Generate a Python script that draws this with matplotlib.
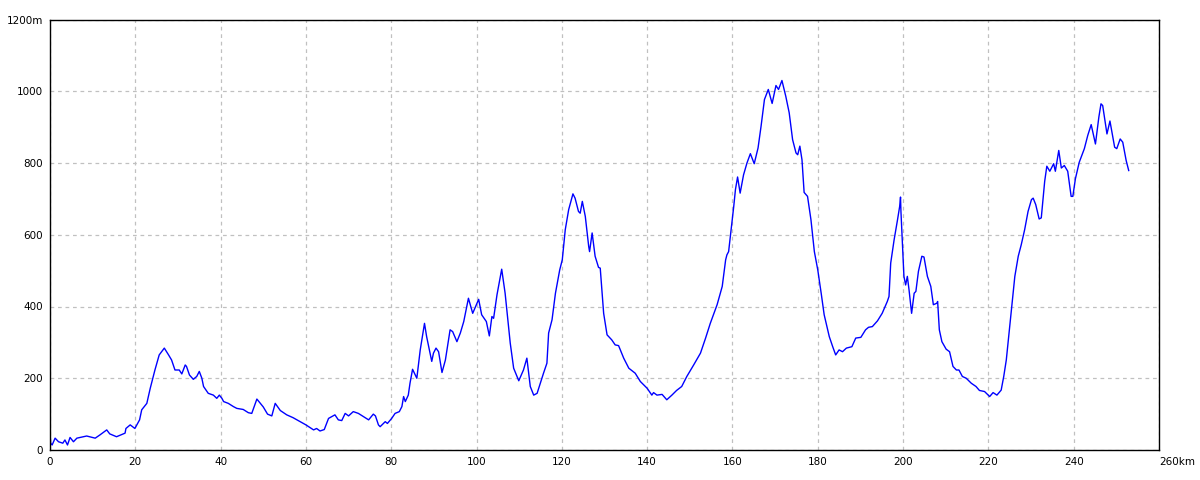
# Elevation profile (km vs m)

import matplotlib.pyplot as plt

# distance (km) and elevation (m)
km = [0, 0.15, 0.5, 1.2, 2, 3, 3.5, 4.1, 4.7, 5.5, 6.3, 8.6, 10.6, 11.7, 13.3,
      14, 15.6, 17.6, 17.8, 18.8, 19.9, 21, 21.5, 22.7, 23.5, 24.6, 25.6, 26.8,
      27.8, 28.5, 29.3, 30.3, 30.9, 31.7, 32, 32.7, 33.6, 34.4, 35, 35.6, 36,
      37.1, 38.3, 39.1, 39.7, 40.3, 40.7, 41.8, 43, 43.8, 45.3, 46.5, 47.3, 48.5,
      50, 51, 52, 52.8, 54, 55.5, 57, 58.5, 60, 61.8, 62.5, 63.3, 64.3, 65.3,
      66.8, 67.6, 68.4, 69.2, 70, 71.1, 72.3, 73.5, 74.7, 75.8, 76.3, 77, 77.4,
      78.6, 79.1, 80.1, 80.9, 81.9, 82.5, 82.9, 83.3, 84, 84.4, 85, 86, 86.8,
      87.8, 88.3, 89.5, 89.9, 90.5, 91.1, 91.9, 92.7, 93.8, 94.4, 95.4, 96.2,
      97, 98.1, 99.1, 100.5, 101.2, 102.3, 103, 103.6, 104, 104.8, 105.9, 106.7,
      107.9, 108.7, 109.9, 111, 111.8, 112.6, 113.4, 114.2, 115.7, 116.5, 116.9,
      117.7, 118.5, 119.5, 120.1, 120.8, 121.6, 122.6, 123.1, 123.9, 124.3,
      124.8, 125.5, 126.3, 126.5, 127.1, 127.8, 128.6, 129, 129.8, 130.6, 131.7,
      132.5, 133.3, 134.5, 135.7, 137.2, 138.4, 140, 141.1, 141.5, 142.3, 143.5,
      144.6, 145.8, 146.9, 148.1, 149.3, 150.9, 152.5, 153.7, 154.8, 156.4,
      157.6, 158.4, 158.7, 159.1, 159.5, 160.3, 160.7, 161.2, 161.8, 162.6,
      163.4, 164.2, 165.1, 166, 166.7, 167.5, 168.4, 169.3, 170.2, 170.8, 171.6,
      172.5, 173.3, 174.1, 174.9, 175.3, 175.8, 176.3, 176.8, 177.6, 178.4,
      179.2, 180, 180.8, 181.5, 182.7, 183.5, 184.2, 185, 185.8, 186.7, 188,
      188.9, 190.1, 191.2, 191.9, 192.8, 194, 195.1, 196.3, 196.7, 197.1, 197.9,
      198.7, 199.2, 199.4, 199.5, 199.8, 200.2, 200.6, 201, 201.4, 202, 202.6,
      203, 203.6, 204.4, 204.9, 205.7, 206.5, 207.1, 207.9, 208.1, 208.5, 209.1,
      210.1, 210.9, 211.7, 212.5, 213.1, 213.9, 214.8, 216, 217.1, 217.9, 219.1,
      220.3, 221.1, 222, 223, 223.6, 224.2, 225, 226.2, 227, 227.7, 228.5,
      229.3, 230.1, 230.5, 231.1, 231.9, 232.4, 233.2, 233.7, 234.4, 235.3,
      235.7, 236.5, 237.1, 237.8, 238.6, 239.4, 239.8, 240.4, 241.3, 242.5,
      243.3, 244.1, 245.1, 245.9, 246.4, 246.8, 247.8, 248.5, 249.6, 250.1,
      250.9, 251.5, 252.3, 252.9]
elev = [51, 19, 14, 33, 23, 19, 28, 14, 35, 23, 33, 39, 33, 42, 56,
        45, 37, 47, 60, 70, 60, 84, 112, 130, 172, 223, 265, 284,
        265, 251, 223, 223, 212, 237, 233, 209, 197, 205, 219, 200, 177,
        158, 153, 144, 153, 144, 135, 130, 121, 116, 113, 104, 102, 142,
        120, 100, 95, 130, 110, 98, 90, 80, 70, 56, 60, 53, 57, 88,
        98, 84, 82, 102, 95, 107, 102, 93, 84, 100, 95, 70, 65,
        79, 74, 88, 102, 107, 121, 149, 135, 153, 186, 225, 200, 279,
        353, 316, 247, 270, 284, 274, 216, 251, 335, 330, 302, 326,
        358, 423, 381, 420, 377, 358, 318, 372, 367, 433, 504, 437,
        298, 228, 193, 223, 256, 177, 153, 158, 214, 242, 326,
        363, 437, 502, 530, 614, 670, 714, 702, 665, 660,
        693, 651, 567, 553, 605, 540, 509, 507, 381, 321, 307,
        293, 291, 256, 228, 214, 191, 172, 153, 160, 153, 155,
        140, 153, 166, 177, 205, 237, 270, 312, 353, 405,
        456, 530, 544, 553, 595, 679, 726, 761, 716, 767,
        800, 826, 798, 842, 902, 977, 1005, 966, 1016, 1005, 1030,
        986, 940, 865, 828, 823, 847, 809, 718, 707, 642,
        553, 502, 437, 377, 316, 288, 265, 279, 274, 284, 288,
        312, 314, 335, 342, 344, 360, 381, 414, 428, 521, 586,
        642, 679, 705, 665, 586, 484, 460, 484, 446, 381, 437,
        442, 498, 540, 538, 484, 456, 405, 409, 414, 335, 302,
        281, 274, 233, 223, 223, 205, 200, 186, 177, 166, 163,
        149, 160, 153, 167, 205, 251, 344, 484, 540, 572, 614,
        665, 698, 702, 684, 644, 647, 749, 791, 777, 798,
        777, 835, 786, 793, 777, 707, 707, 756, 802, 840,
        877, 907, 853, 928, 965, 960, 881, 917, 844, 840,
        867, 858, 807, 779]

x_ticks = [0, 20, 40, 60, 80, 100, 120, 140, 160, 180, 200, 220, 240, 260]
x_labels = ["0", "20", "40", "60", "80", "100", "120", "140", "160", "180",
            "200", "220", "240", "260km"]
y_ticks = [0, 200, 400, 600, 800, 1000, 1200]
y_labels = ["0", "200", "400", "600", "800", "1000", "1200m"]

fig = plt.figure(figsize=(12, 4.8), dpi=100)
ax = fig.add_axes([50 / 1200, 30 / 480, 1109 / 1200, 430.5 / 480])

ax.plot(km, elev, color="#0000ff", linewidth=1)

ax.set_xlim(0, 260)
ax.set_ylim(0, 1200)
ax.set_xticks(x_ticks)
ax.set_xticklabels(x_labels)
ax.set_yticks(y_ticks)
ax.set_yticklabels(y_labels)
ax.tick_params(length=0, labelsize=7.5, pad=5)
ax.grid(True, linestyle=(0, (3, 3)), color="#c0c0c0", linewidth=0.9)
for s in ax.spines.values():
    s.set_color("black")
    s.set_linewidth(1)

# last x label sits just right of the axis end in the reference
ax.get_xticklabels()[-1].set_horizontalalignment("left")
ax.get_xticklabels()[-1].set_x(258.4)

plt.savefig("out.png", dpi=100)
